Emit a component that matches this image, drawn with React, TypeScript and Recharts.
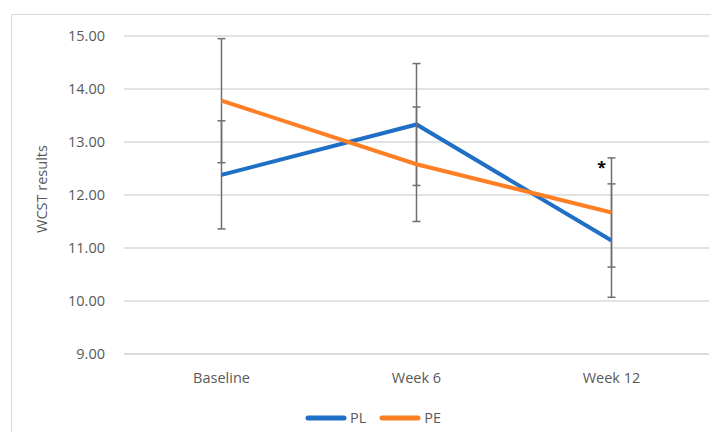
import React from 'react';
import { LineChart, Line, XAxis, YAxis, CartesianGrid, ErrorBar, ReferenceDot } from 'recharts';

const categories = ['Baseline', 'Week 6', 'Week 12'];
const plMeans = [12.38, 13.33, 11.14];
const plErrors = [1.02, 1.15, 1.07];
const peMeans = [13.78, 12.58, 11.67];
const peErrors = [1.17, 1.08, 1.03];
const yTicks = [9, 10, 11, 12, 13, 14, 15];
const significantAt = ['Week 12'];

const series = [
  { key: 'pl', name: 'PL', color: '#1f6fc6' },
  { key: 'pe', name: 'PE', color: '#ff7f24' },
];

const data = categories.map((name, i) => ({
  name,
  pl: plMeans[i],
  plErr: plErrors[i],
  pe: peMeans[i],
  peErr: peErrors[i],
}));

// top of the highest error bar at each flagged category
const sigMarks = significantAt.map((cat) => {
  const i = categories.indexOf(cat);
  return { cat, top: Math.max(plMeans[i] + plErrors[i], peMeans[i] + peErrors[i]) };
});

const FONT = '"Open Sans", sans-serif';
const TEXT = '#595959';
const GRID = '#d9d9d9';

const YLabel = ({ viewBox }: any) => {
  const x = viewBox.x + 41;
  const y = viewBox.y + viewBox.height / 2 - 6;
  return (
    <text x={x} y={y} transform={`rotate(-90 ${x} ${y})`} textAnchor="middle" dominantBaseline="central"
      fill={TEXT} fontSize={14.5} fontFamily={FONT}>
      WCST results
    </text>
  );
};

const Star = ({ viewBox }: any) => {
  const cx = viewBox.x + (viewBox.width || 0) / 2;
  const cy = viewBox.y + (viewBox.height || 0) / 2;
  return (
    <text x={cx - 10} y={cy + 15} textAnchor="middle" fill="#000" fontSize={16} fontWeight={700} fontFamily={FONT}>
      *
    </text>
  );
};

export default function App() {
  return (
    <div style={{ position: 'relative', width: 719, height: 440, margin: -8, overflow: 'hidden', background: '#fff', fontFamily: FONT }}>
      <div style={{ position: 'absolute', left: 11, top: 14, width: 800, height: 500, border: `1.5px solid ${GRID}` }} />
      <div style={{ position: 'absolute', left: 0, top: 0 }}>
        <LineChart width={719} height={440} data={data} margin={{ top: 36, right: 10, left: 0, bottom: 56 }}>
          <CartesianGrid vertical={false} stroke={GRID} strokeWidth={1.3} />
          <XAxis
            dataKey="name"
            height={30}
            padding={{ left: 97.5, right: 97.5 }}
            axisLine={{ stroke: GRID, strokeWidth: 1.3 }}
            tickLine={false}
            tickSize={0}
            tickMargin={19}
            tick={{ fill: TEXT, fontSize: 14.5, fontFamily: FONT }}
          />
          <YAxis
            width={124}
            domain={[9, 15]}
            ticks={yTicks}
            axisLine={false}
            tickLine={false}
            tickSize={0}
            tickMargin={19}
            tickFormatter={(v: number) => v.toFixed(2)}
            tick={{ fill: TEXT, fontSize: 14.5, fontFamily: FONT }}
            label={{ content: YLabel }}
          />
          {series.map((s) => (
            <Line
              key={s.key}
              type="linear"
              dataKey={s.key}
              name={s.name}
              stroke={s.color}
              strokeWidth={4}
              dot={false}
              activeDot={false}
              isAnimationActive={false}
            >
              <ErrorBar dataKey={`${s.key}Err`} width={4} stroke="#6f6f6f" strokeWidth={1.5} direction="y" isAnimationActive={false} />
            </Line>
          ))}
          {sigMarks.map((m) => (
            <ReferenceDot key={m.cat} x={m.cat} y={m.top} r={0} fill="none" stroke="none" label={{ content: Star }} />
          ))}
        </LineChart>
      </div>
      <div style={{ position: 'absolute', left: 305, top: 408, height: 20, display: 'flex', alignItems: 'center', gap: 13 }}>
        {series.map((s) => (
          <div key={s.key} style={{ display: 'flex', alignItems: 'center' }}>
            <svg width={42} height={8}>
              <line x1={3} y1={4} x2={39} y2={4} stroke={s.color} strokeWidth={5} strokeLinecap="round" />
            </svg>
            <span style={{ marginLeft: 3, color: TEXT, fontSize: 14.5, lineHeight: '20px' }}>{s.name}</span>
          </div>
        ))}
      </div>
    </div>
  );
}
